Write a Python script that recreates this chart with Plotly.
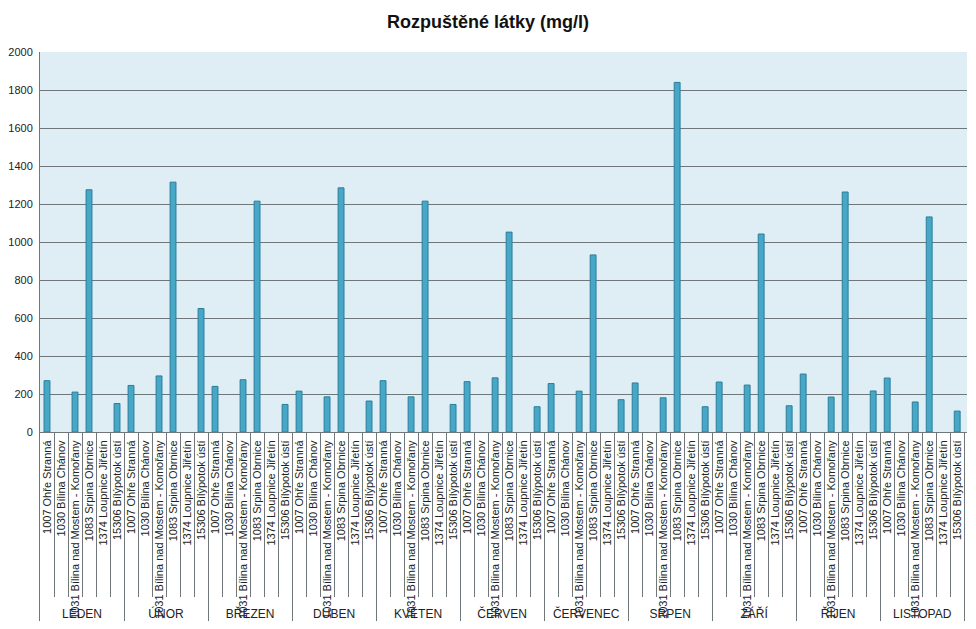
import plotly.graph_objects as go

months = ["LEDEN", "ÚNOR", "BŘEZEN", "DUBEN", "KVĚTEN", "ČERVEN",
          "ČERVENEC", "SRPEN", "ZÁŘÍ", "ŘÍJEN", "LISTOPAD"]
stations = ["1007 Ohře Stranná", "1030 Bílina Chánov",
            "1031 Bílina nad Mostem - Komořany", "1083 Srpina Obrnice",
            "1374 Loupnice Jiřetín", "15306 Bílýpotok ústí"]

ohre_stranna = [270, 245, 240, 215, 270, 265, 255, 258, 263, 305, 284]
bilina_chanov = [None, None, None, None, None, None, None, None, None, None, None]
bilina_komorany = [210, 295, 275, 185, 185, 285, 215, 180, 247, 184, 158]
srpina_obrnice = [1275, 1315, 1215, 1285, 1215, 1052, 932, 1840, 1042, 1263, 1132]
loupnice_jiretin = [None, None, None, None, None, None, None, None, None, None, None]
bily_potok = [150, 650, 145, 163, 145, 133, 170, 133, 138, 216, 110]

y_ticks = [0, 200, 400, 600, 800, 1000, 1200, 1400, 1600, 1800, 2000]

series = [ohre_stranna, bilina_chanov, bilina_komorany,
          srpina_obrnice, loupnice_jiretin, bily_potok]

n_st = len(stations)
n_cat = len(months) * n_st

pos, labels, y = [], [], []
for mi, m in enumerate(months):
    for si, s in enumerate(stations):
        pos.append(mi * n_st + si)
        labels.append(s)
        y.append(series[si][mi])
month_pos = [mi * n_st + (n_st - 1) / 2 for mi in range(len(months))]
x_range = [-0.5, n_cat - 0.3]

FONT = "Liberation Sans Narrow, Arial Narrow, Liberation Sans, sans-serif"
GRID = "#6f777b"
TXT = "#222"
PLOT_BG = "#dfeef4"

# figure size accounts for the 8px default body margin of the page
W, H = 960, 613
TOP, PLOT_BOTTOM, SEP_BOTTOM = 44, 424, 589
span = H - TOP
main_bottom = (H - PLOT_BOTTOM) / span
sep_bottom = (H - SEP_BOTTOM) / span

fig = go.Figure()
fig.add_trace(go.Bar(
    x=pos, y=y,
    marker=dict(color="#47a7c7", line=dict(color="#2a7d9b", width=1)),
    width=0.42, showlegend=False, xaxis="x", yaxis="y",
))
# invisible helper traces carrying the auxiliary axes
for xa, ya in (("x2", "y2"), ("x3", "y3"), ("x4", "y")):
    fig.add_trace(go.Scatter(
        x=pos, y=y, mode="markers", marker=dict(opacity=0),
        hoverinfo="skip", showlegend=False, xaxis=xa, yaxis=ya,
    ))

hidden_y = dict(range=[-2, -1], showticklabels=False, showgrid=False,
                zeroline=False, ticks="", fixedrange=True, automargin=False)

fig.update_layout(
    width=W, height=H,
    margin=dict(l=32, r=1, t=TOP, b=0),
    paper_bgcolor="white",
    plot_bgcolor="rgba(0,0,0,0)",
    title=dict(text="<b>Rozpuštěné látky (mg/l)</b>", x=0.5, xanchor="center",
               y=1 - 14 / H, yanchor="middle",
               font=dict(family=FONT, size=18, color="#111")),
    font=dict(family=FONT, size=11, color=TXT),
    hovermode="closest",
    shapes=[dict(type="rect", xref="x domain", yref="y domain",
                 x0=0, x1=1, y0=0, y1=1, fillcolor=PLOT_BG,
                 line=dict(width=0), layer="below")],
    yaxis=dict(domain=[main_bottom, 1], range=[0, 2000], tickvals=y_ticks,
               showgrid=True, gridcolor=GRID, gridwidth=1, showline=True,
               linecolor=GRID, ticks="", ticklabelstandoff=4, zeroline=False,
               automargin=False,
               tickfont=dict(family=FONT, size=11, color=TXT)),
    # station labels
    xaxis=dict(range=x_range, tickmode="array", tickvals=pos, ticktext=labels,
               tickangle=-90, showline=True, linecolor=GRID, ticks="",
               showgrid=False, zeroline=False, ticklabelstandoff=3,
               automargin=False,
               tickfont=dict(family=FONT, size=11, color=TXT)),
    # station separators (grid of a strip below the plot)
    yaxis2=dict(domain=[sep_bottom, main_bottom], showline=False, **hidden_y),
    xaxis2=dict(range=x_range, anchor="y2", tickmode="linear", tick0=-0.5,
                dtick=1, showgrid=True, gridcolor=GRID, gridwidth=1,
                showticklabels=False, ticks="", showline=False,
                zeroline=False, automargin=False),
    # month dividers (grid of a taller strip below the plot)
    yaxis3=dict(domain=[0, main_bottom], showline=True, linecolor=GRID,
                **hidden_y),
    xaxis3=dict(range=x_range, anchor="y3", tickmode="linear", tick0=-0.5,
                dtick=n_st, showgrid=True, gridcolor=GRID, gridwidth=1,
                showticklabels=False, ticks="", showline=False,
                zeroline=False, automargin=False),
    # month labels
    xaxis4=dict(range=x_range, overlaying="x", anchor="y", side="bottom",
                tickmode="array", tickvals=month_pos, ticktext=months,
                ticks="", ticklabelstandoff=173, tickangle=0, showgrid=False,
                showline=False, zeroline=False, automargin=False,
                tickfont=dict(family=FONT, size=12, color=TXT)),
)

fig.write_html("out.html")
